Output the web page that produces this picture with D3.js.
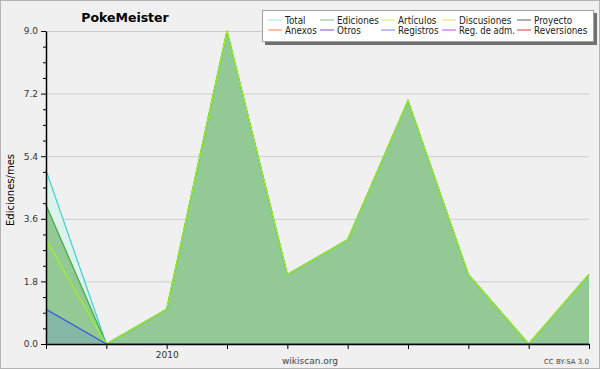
<!DOCTYPE html>
<html lang="es">
<head>
<meta charset="UTF-8">
<script src="https://d3js.org/d3.v7.min.js"></script>
<style>
  body { margin: 0; }
  text { font-family: "DejaVu Sans", sans-serif; }
</style>
</head>
<body>
<svg width="600" height="370" id="mainsvg"></svg>
<script>
  // meses (nov 2009 .. ago 2010)
  const months = ['2009-11', '2009-12', '2010-01', '2010-02', '2010-03', '2010-04', '2010-05', '2010-06', '2010-07', '2010-08'];
  const total = [5, 0, 1, 9, 2, 3, 7, 2, 0, 2];
  const ediciones = [4, 0, 1, 9, 2, 3, 7, 2, 0, 2];
  const articulos = [3, 0, 1, 9, 2, 3, 7, 2, 0, 2];
  const registros = [1, 0, 0, 0, 0, 0, 0, 0, 0, 0];
  const yTicks = [0, 1.8, 3.6, 5.4, 7.2, 9.0];

  const legendItems = [
    ['Total', '#a8e4e4'], ['Ediciones', '#80c080'], ['Artículos', '#c8f070'], ['Discusiones', '#f0d060'], ['Proyecto', '#606060'],
    ['Anexos', '#f08848'], ['Otros', '#8848d0'], ['Registros', '#7088f0'], ['Reg. de adm.', '#c050e0'], ['Reversiones', '#e03838']
  ];

  const svg = d3.select('#mainsvg');
  const width = +svg.attr('width');
  const height = +svg.attr('height');
  const margin = { top: 31, right: 11, bottom: 26, left: 46 };
  const innerWidth = width - margin.left - margin.right;
  const innerHeight = height - margin.top - margin.bottom;

  svg.append('rect').attr('x', 0.5).attr('y', 0.5)
    .attr('width', width - 1).attr('height', height - 2)
    .attr('fill', '#f0f0f0').attr('stroke', '#b4b4b4');

  const xScale = d3.scalePoint().domain(months).range([0, innerWidth]);
  const yScale = d3.scaleLinear().domain([0, 9]).range([innerHeight, 0]);

  const g = svg.append('g').attr('transform', `translate(${margin.left}, ${margin.top})`);

  // grid
  g.selectAll('.grid').data(yTicks.slice(1)).enter().append('line')
    .attr('x1', 0).attr('x2', innerWidth)
    .attr('y1', d => yScale(d) + 0.5).attr('y2', d => yScale(d) + 0.5)
    .attr('stroke', '#cccccc');

  const series = [
    { values: total, fill: '#dcf2ea', stroke: '#38d4d4' },
    { values: ediciones, fill: '#92c994', stroke: '#40a840' },
    { values: articulos, fill: 'none', stroke: '#a6f01c' },
    { values: registros, fill: 'rgba(110,150,200,0.35)', stroke: '#3050e0' }
  ];

  const area = d3.area().x((d, i) => xScale(months[i])).y0(innerHeight).y1(d => yScale(d));
  const line = d3.line().x((d, i) => xScale(months[i])).y(d => yScale(d));

  series.forEach(s => {
    if (s.fill !== 'none') {
      g.append('path').datum(s.values).attr('d', area).attr('fill', s.fill);
    }
  });
  series.forEach(s => {
    g.append('path').datum(s.values).attr('d', line)
      .attr('fill', 'none').attr('stroke', s.stroke).attr('stroke-width', 1.2);
  });

  // ejes
  const yAxis = d3.axisLeft(yScale).tickValues(yTicks).tickFormat(d3.format('.1f')).tickSize(5).tickSizeOuter(0);
  const yG = g.append('g').call(yAxis);
  const minor = d3.range(0, 9.01, 0.45).filter(v => !yTicks.some(t => Math.abs(t - v) < 0.01));
  yG.selectAll('.minor').data(minor).enter().append('line')
    .attr('x1', -3).attr('x2', 0)
    .attr('y1', d => yScale(d) + 0.5).attr('y2', d => yScale(d) + 0.5)
    .attr('stroke', '#000');

  const xAxis = d3.axisBottom(xScale).tickSize(5).tickSizeOuter(0)
    .tickFormat(d => d.endsWith('-01') ? d.slice(0, 4) : '');
  g.append('g').attr('transform', `translate(0, ${innerHeight})`).call(xAxis);

  g.selectAll('.domain').attr('stroke', '#000').attr('stroke-width', 1.5);
  g.selectAll('.tick line').attr('stroke', '#000');
  g.selectAll('.tick text').attr('font-size', 9).attr('fill', '#333');

  // textos
  svg.append('text').text('PokeMeister').attr('x', 125).attr('y', 22)
    .attr('text-anchor', 'middle').attr('font-size', 12.5).attr('font-weight', 'bold');
  svg.append('text').text('Ediciones/mes')
    .attr('transform', 'translate(14, 190) rotate(-90)')
    .attr('text-anchor', 'middle').attr('font-size', 10);
  svg.append('text').text('wikiscan.org').attr('x', 310).attr('y', 364)
    .attr('text-anchor', 'middle').attr('font-size', 9).attr('fill', '#444');
  svg.append('text').text('CC BY-SA 3.0').attr('x', 589).attr('y', 364)
    .attr('text-anchor', 'end').attr('font-size', 7).attr('fill', '#444');

  // leyenda
  const lg = svg.append('g').attr('transform', 'translate(262, 10)');
  lg.append('rect').attr('x', 3).attr('y', 3).attr('width', 332).attr('height', 32).attr('fill', '#707070');
  lg.append('rect').attr('x', 0.5).attr('y', 0.5).attr('width', 331).attr('height', 31)
    .attr('fill', '#fff').attr('stroke', '#a0a0a0');
  const colX = [6, 58, 119, 180, 255, 328];
  legendItems.forEach((d, i) => {
    const col = i % 5;
    const cx = colX[col];
    const cy = i < 5 ? 10 : 20;
    lg.append('line').attr('x1', cx).attr('x2', cx + 14).attr('y1', cy).attr('y2', cy)
      .attr('stroke', d[1]).attr('stroke-width', 1);
    const t = lg.append('text').text(d[0]).attr('x', cx + 17).attr('y', cy + 4)
      .attr('font-size', 10).attr('fill', '#222');
    // estrechar el texto para que quepa en su columna
    const avail = colX[col + 1] - cx - 19;
    const w = t.node().getComputedTextLength();
    t.attr('textLength', Math.min(w * 0.88, avail)).attr('lengthAdjust', 'spacingAndGlyphs');
  });
</script>
</body>
</html>
